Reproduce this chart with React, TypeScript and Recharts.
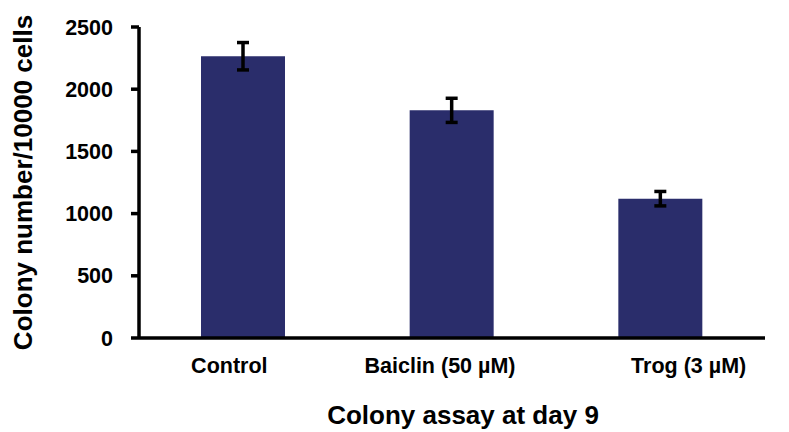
import React from 'react';
import { BarChart, Bar, XAxis, YAxis, ErrorBar } from 'recharts';

const categories = ['Control', 'Baiclin (50 µM)', 'Trog (3 µM)'];
const colonyValues = [2265, 1830, 1120];
const colonyErrors = [110, 97, 58];
const yTicks = [0, 500, 1000, 1500, 2000, 2500];

const data = categories.map((name, i) => ({ name, value: colonyValues[i], err: colonyErrors[i] }));

const FONT = '"Liberation Sans", Arial, Helvetica, sans-serif';
// horizontal nudges of the category labels, as in the original figure
const labelNudge = [-14, -12, 28];

const XTick = (props: any) => {
  const { x, y, payload, index } = props;
  const dx = labelNudge[index] ?? 0;
  return (
    <text x={x + dx} y={y} dy="0.71em" textAnchor="middle" fontFamily={FONT} fontWeight="bold" fontSize={21.5} fill="#000">
      {payload.value}
    </text>
  );
};

const YLabel = (props: any) => {
  const vb = props.viewBox;
  const x = vb.x + 23;
  const y = vb.y + vb.height / 2;
  return (
    <text x={x} y={y} transform={`rotate(-90, ${x}, ${y})`} textAnchor="middle" dominantBaseline="central"
      fontFamily={FONT} fontWeight="bold" fontSize={26} fill="#000">
      Colony number/10000 cells
    </text>
  );
};

const XLabel = (props: any) => {
  const vb = props.viewBox;
  const x = vb.x + vb.width / 2 + 11;
  const y = vb.y + 77;
  return (
    <text x={x} y={y} textAnchor="middle" dominantBaseline="central"
      fontFamily={FONT} fontWeight="bold" fontSize={26} fill="#000">
      Colony assay at day 9
    </text>
  );
};

export default function App() {
  return (
    <div style={{ position: 'absolute', left: 0, top: 0, background: '#fff' }}>
      <BarChart width={789} height={432} data={data} margin={{ top: 27, right: 24, left: 0, bottom: 0 }}>
        <XAxis dataKey="name" height={94} tickLine={false} tickMargin={14}
          axisLine={{ stroke: '#000', strokeWidth: 3.5 }}
          tick={<XTick />}
          label={<XLabel />} />
        <YAxis width={139} domain={[0, 2500]} ticks={yTicks} interval={0} tickSize={8} tickMargin={18}
          axisLine={{ stroke: '#000', strokeWidth: 3.5 }}
          tickLine={{ stroke: '#000', strokeWidth: 3.5 }}
          tick={{ fontSize: 21.5, fontWeight: 'bold', fill: '#000', fontFamily: FONT }}
          label={<YLabel />} />
        <Bar dataKey="value" fill="#2a2d6b" barSize={84} isAnimationActive={false}>
          <ErrorBar dataKey="err" width={6} stroke="#000" strokeWidth={3.5} />
        </Bar>
      </BarChart>
    </div>
  );
}
